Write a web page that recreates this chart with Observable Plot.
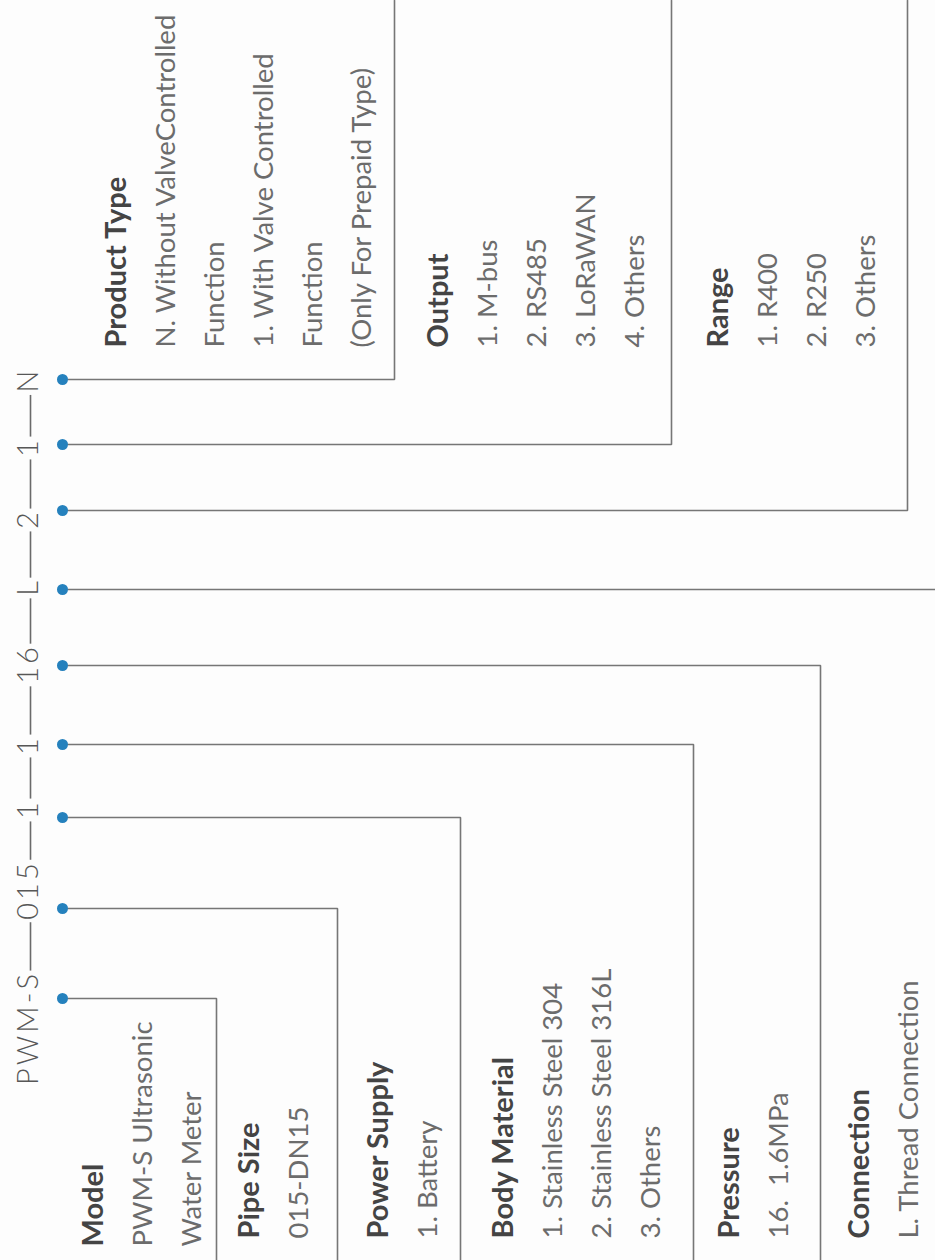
<!DOCTYPE html>
<html>
<head>
<meta charset="utf-8">
<script src="https://cdn.jsdelivr.net/npm/d3@7"></script>
<script src="https://cdn.jsdelivr.net/npm/@observablehq/plot@0.6"></script>
<style>
  html, body { margin: 0; padding: 0; background: #fdfdfd; }
  #chart svg { display: block; background: #fdfdfd; }
</style>
</head>
<body>
<div id="chart"></div>
<script>
// ---- data ----
const codes = ["PWM-S", "015", "1", "1", "16", "L", "2", "1", "N"];
const categories = ["Model", "Pipe Size", "Power Supply", "Body Material", "Pressure", "Connection", "Range", "Output", "Product Type"];
const optionLists = [
  ["PWM-S Ultrasonic", "Water Meter"],
  ["015-DN15"],
  ["1. Battery"],
  ["1. Stainless Steel 304", "2. Stainless Steel 316L", "3. Others"],
  ["16.  1.6MPa"],
  ["L. Thread Connection"],
  ["1. R400", "2. R250", "3. Others"],
  ["1. M-bus", "2. RS485", "3. LoRaWAN", "4. Others"],
  ["N. Without ValveControlled", "Function", "1. With Valve Controlled", "Function", "(Only For Prepaid Type)"]
];

// ---- layout (page pixel space, diagram is rotated -90°) ----
const W = 935, H = 1260;
const codeX = 28, dotX = 62;
const codeY = [1029, 891, 810, 746, 665, 588, 520, 448, 381];
const dotY = [998, 908, 817, 744, 665, 589, 510, 444, 379];
const elbowX = [216, 337, 460, 693, 820, 935, 907, 671, 394];
const elbowEnd = [H, H, H, H, H, null, 0, 0, 0];
const titleX = [102, 258, 387, 512, 738, 868, 727, 447, 125];
const groupStartY = [1246, 1238, 1238, 1238, 1238, 1238, 347, 347, 347];
const lineStep = 49;
const titleSize = 29, optionSize = 27.5, codeSize = 29;
const letterSpacing = 3;
const codeFill = "#575757";

// ---- build tables ----
const connectors = [];
codes.forEach((c, i) => {
  connectors.push({id: i, x: dotX, y: dotY[i]});
  connectors.push({id: i, x: elbowX[i], y: dotY[i]});
  if (elbowEnd[i] !== null) connectors.push({id: i, x: elbowX[i], y: elbowEnd[i]});
});
const dots = codes.map((c, i) => ({code: c, x: dotX, y: dotY[i]}));
const codeLabels = codes.map((c, i) => ({code: c, x: codeX, y: codeY[i]}));

// measure code label lengths to place the joining dashes
const ctx = document.createElement("canvas").getContext("2d");
ctx.font = `300 ${codeSize}px Lato`;
const halfLen = codes.map(c => (ctx.measureText(c).width + letterSpacing * (c.length - 1)) / 2);
const gap = 3;
const dashes = [];
for (let i = 0; i < codes.length - 1; i++) {
  dashes.push({x: codeX + 2, y1: codeY[i] - halfLen[i] - gap, y2: codeY[i + 1] + halfLen[i + 1] + gap});
}

const titles = categories.map((t, i) => ({text: t, x: titleX[i], y: groupStartY[i]}));
const options = [];
optionLists.forEach((list, i) => list.forEach((t, j) => options.push({text: t, x: titleX[i] + lineStep * (j + 1), y: groupStartY[i]})));

const fam = "Lato, 'Noto Sans', sans-serif";
const textCommon = {rotate: -90, textAnchor: "start", lineAnchor: "bottom", fontFamily: fam};

const plot = Plot.plot({
  width: W,
  height: H,
  margin: 0,
  x: {domain: [0, W], range: [0, W], axis: null},
  y: {domain: [0, H], range: [0, H], axis: null},
  style: {background: "#fdfdfd"},
  marks: [
    Plot.line(connectors, {x: "x", y: "y", z: "id", stroke: "#767676", strokeWidth: 1.6, strokeLinejoin: "miter", curve: "linear"}),
    Plot.ruleX(dashes, {x: "x", y1: "y1", y2: "y2", stroke: "#6a6a6a", strokeWidth: 1.6}),
    Plot.dot(dots, {x: "x", y: "y", r: 5.5, fill: "#2581bd", stroke: "none"}),
    Plot.text(codeLabels, {x: "x", y: "y", text: "code", rotate: -90, textAnchor: "middle", lineAnchor: "middle", fontSize: codeSize, fontWeight: 300, fill: codeFill, fontFamily: fam}),
    Plot.text(titles, {...textCommon, x: "x", y: "y", text: "text", fontSize: titleSize, fontWeight: 700, fill: "#444444"}),
    Plot.text(options, {...textCommon, x: "x", y: "y", text: "text", fontSize: optionSize, fontWeight: 400, fill: "#6c6c6c"})
  ]
});
// letter-spaced code labels (the code group is the one filled with codeFill)
d3.select(plot).selectAll("g").filter(function() { return this.getAttribute("fill") === codeFill; })
  .selectAll("text").attr("letter-spacing", letterSpacing)
  .attr("dx", function() { return letterSpacing / 2; });
document.getElementById("chart").appendChild(plot);
</script>
</body>
</html>
